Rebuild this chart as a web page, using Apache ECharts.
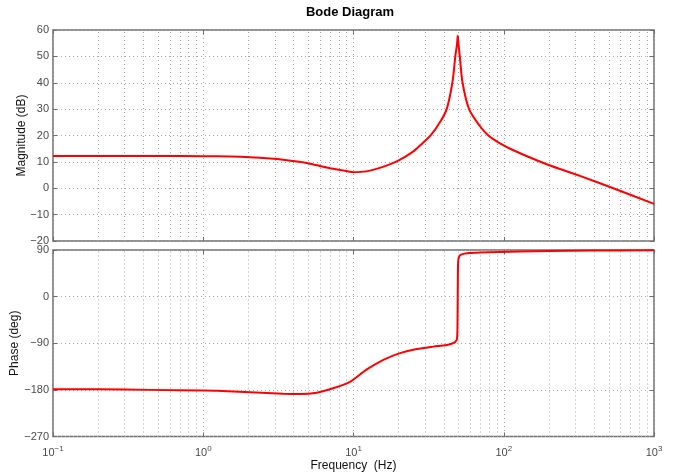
<!DOCTYPE html>
<html>
<head>
<meta charset="utf-8">
<script src="https://cdn.jsdelivr.net/npm/echarts@6/dist/echarts.min.js"></script>
<style>
  html, body { margin: 0; padding: 0; background: #fff; }
  #chart { width: 674px; height: 474px; }
</style>
</head>
<body>
<div id="chart"></div>
<script>
// Frequency response samples (Hz, dB)
const magFreq = [0.1, 0.2, 0.5, 1.0, 1.5, 2.05, 2.78, 3.4, 4.88, 6.63, 9.0, 10.0, 12.2, 15.7, 19.4, 22.0, 24.9, 27.7, 32.8, 37.6, 41.7, 45.5, 47.6, 48.7, 49.1, 49.4, 49.8, 51.0, 53.2, 58.8, 69.5, 79.0, 94.4, 115.8, 193, 321, 536, 1000];
const magDb   = [12.2, 12.2, 12.2, 12.15, 12.0, 11.75, 11.3, 10.85, 9.6, 7.9, 6.5, 6.1, 6.4, 8.1, 10.2, 11.9, 13.9, 16.2, 20.2, 25.0, 30.0, 40.0, 50.0, 54.0, 56.0, 57.8, 55.5, 50.0, 40.0, 30.0, 23.5, 20.0, 17.0, 14.4, 9.1, 4.7, 0.0, -5.9];

// Phase samples (Hz, deg)
const phaseFreq = [0.1, 0.2, 0.44, 1.0, 1.23, 2.05, 3.4, 4.4, 5.69, 7.31, 9.48, 12.2, 15.8, 20.4, 26.4, 34.0, 41.7, 46.7, 48.0, 48.8, 49.2, 49.4, 49.6, 49.9, 50.7, 52.0, 55.0, 59.6, 70.0, 94.4, 130, 200, 400, 1000];
const phaseDeg  = [-179, -179, -180, -181, -181.5, -184.5, -187.5, -188, -185.5, -177, -164.5, -141, -122, -109, -101, -96.5, -93.5, -89, -86, -82, -60, 0, 60, 72, 78, 81, 83, 84, 85, 86, 87, 88, 89, 89.5];

// Axis ticks
const freqDecades = [0.1, 1, 10, 100, 1000];
const decadeExponents = ['\u22121', '0', '1', '2', '3'];
const minorMultipliers = [2, 3, 4, 5, 6, 7, 8, 9];
const magTicks = [-20, -10, 0, 10, 20, 30, 40, 50, 60];
const phaseTicks = [-270, -180, -90, 0, 90];

const zip = (xs, ys) => xs.map((x, i) => [x, ys[i]]);

// Vertical grid lines at 2..9 within each decade
const minorLines = [];
freqDecades.slice(0, -1).forEach(d => minorMultipliers.forEach(m => minorLines.push({ xAxis: d * m })));

const gridColor = '#a8a8a8';
const frameColor = '#6e6e6e';
const dotted = { color: gridColor, width: 1, type: [1, 3] };
const labelColor = '#4a4a4a';
const fontFamily = '"Liberation Sans", Arial, Helvetica, sans-serif';
const minus = v => (v < 0 ? '\u2212' + Math.abs(v) : String(v));

function freqAxis(gridIndex, position, showLabels) {
  return {
    type: 'log', logBase: 10, min: freqDecades[0], max: freqDecades[freqDecades.length - 1],
    gridIndex, position,
    axisLine: { show: false, onZero: false },
    axisTick: { show: true, inside: true, length: 4, lineStyle: { color: frameColor } },
    splitLine: { show: position === 'bottom', lineStyle: dotted },
    axisLabel: {
      show: showLabels, margin: 8, color: labelColor, fontFamily,
      formatter: v => {
        const e = Math.round(Math.log10(v));
        const idx = freqDecades.findIndex(d => Math.round(Math.log10(d)) === e);
        return '{b|10}{s|' + decadeExponents[idx] + '}';
      },
      rich: {
        b: { fontSize: 11, color: labelColor, fontFamily },
        s: { fontSize: 8, color: labelColor, fontFamily, padding: [0, 0, 9, 0] }
      }
    }
  };
}

function valueAxis(gridIndex, position, ticks, showLabels, name, nameGap) {
  return {
    type: 'value', gridIndex, position,
    min: ticks[0], max: ticks[ticks.length - 1], interval: ticks[1] - ticks[0],
    axisLine: { show: false, onZero: false },
    axisTick: { show: true, inside: true, length: 4, lineStyle: { color: frameColor } },
    splitLine: { show: position === 'left', lineStyle: dotted },
    axisLabel: { show: showLabels, margin: 4, color: labelColor, fontSize: 11, fontFamily, formatter: minus },
    name: name || '', nameLocation: 'middle', nameGap: nameGap || 0, nameRotate: 90,
    nameMoveOverlap: false,
    nameTextStyle: { color: '#111', fontSize: 12, fontFamily }
  };
}

const gridBase = {
  left: 53, right: 20, show: true, borderColor: frameColor, borderWidth: 1.5,
  backgroundColor: '#fff', containLabel: false, outerBoundsMode: 'none'
};

const chart = echarts.init(document.getElementById('chart'), null, { renderer: 'canvas' });
chart.setOption({
  animation: false,
  backgroundColor: '#fff',
  title: {
    text: 'Bode Diagram', left: 345, top: 1, textAlign: 'center',
    textStyle: { fontSize: 13, fontWeight: 'bold', color: '#000', fontFamily }
  },
  grid: [
    Object.assign({}, gridBase, { top: 30, height: 211 }),
    Object.assign({}, gridBase, { top: 250, height: 186.5 })
  ],
  xAxis: [
    freqAxis(0, 'bottom', false),
    freqAxis(0, 'top', false),
    Object.assign(freqAxis(1, 'bottom', true), {
      name: 'Frequency  (Hz)', nameLocation: 'middle', nameGap: 23, nameMoveOverlap: false,
      nameTextStyle: { color: '#111', fontSize: 12, fontFamily }
    }),
    freqAxis(1, 'top', false)
  ],
  yAxis: [
    valueAxis(0, 'left', magTicks, true, 'Magnitude (dB)', 25),
    valueAxis(0, 'right', magTicks, false),
    valueAxis(1, 'left', phaseTicks, true, 'Phase (deg)', 32),
    valueAxis(1, 'right', phaseTicks, false)
  ],
  series: [
    {
      type: 'line', xAxisIndex: 0, yAxisIndex: 0, data: [], z: 1, silent: true,
      markLine: { silent: true, symbol: 'none', label: { show: false }, lineStyle: dotted, data: minorLines }
    },
    {
      type: 'line', xAxisIndex: 2, yAxisIndex: 2, data: [], z: 1, silent: true,
      markLine: { silent: true, symbol: 'none', label: { show: false }, lineStyle: dotted, data: minorLines }
    },
    {
      name: 'Magnitude', type: 'line', xAxisIndex: 0, yAxisIndex: 0, z: 5,
      data: zip(magFreq, magDb), showSymbol: false, smooth: 0.3,
      lineStyle: { color: '#ff0000', width: 2 }
    },
    {
      name: 'Phase', type: 'line', xAxisIndex: 2, yAxisIndex: 2, z: 5,
      data: zip(phaseFreq, phaseDeg), showSymbol: false, smooth: 0.25,
      lineStyle: { color: '#ff0000', width: 2 }
    }
  ]
});
</script>
</body>
</html>
